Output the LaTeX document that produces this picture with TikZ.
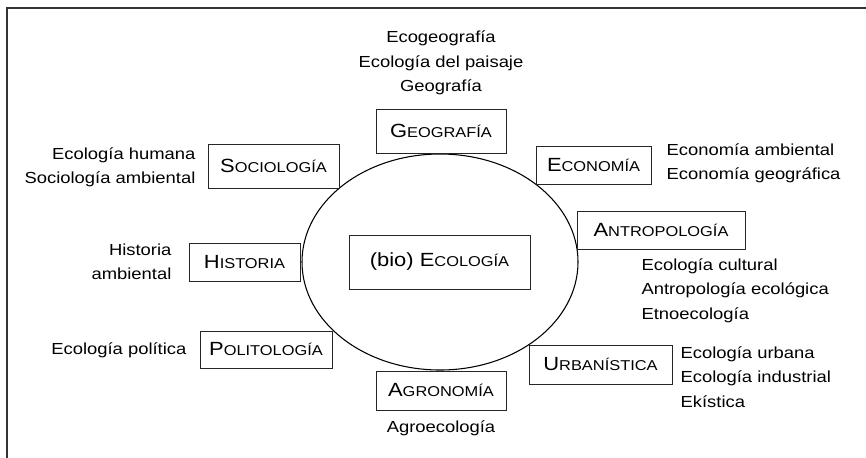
\documentclass[tikz,border=0pt]{standalone}
\usepackage{fontspec}
\setmainfont{Liberation Sans}[FakeStretch=1.15]
\usepackage{tikz}
\usetikzlibrary{shapes.geometric}
\newcommand{\fakesc}[2]{#1{\fontsize{10.7pt}{12pt}\selectfont #2}}

\begin{document}
\begin{tikzpicture}[x=0.75pt, y=-0.75pt,
  disc/.style={draw=black!85, line width=0.7pt, fill=white, inner sep=0pt, font=\fontsize{14.3pt}{16pt}\selectfont},
  field/.style={inner sep=1pt, font=\fontsize{12pt}{18.2pt}\selectfont}]
  \useasboundingbox (0,0) rectangle (866,457);
  \clip (0,0) rectangle (866,457);
  \draw[black!80, line width=1.6pt] (7,8) rectangle (880,470);
  % central ellipse
  \node[draw, ellipse, line width=0.8pt, minimum width=207pt, minimum height=162pt, inner sep=0pt] (sphere) at (440,262) {};
  \node[disc, minimum width=135.75pt, minimum height=40.5pt] (bio) at (439.5,262) {(bio) \fakesc{E}{COLOGÍA}};
  % disciplines
  \node[disc, minimum width=97.5pt, minimum height=33pt] (geo) at (441,131) {\fakesc{G}{EOGRAFÍA}};
  \node[disc, minimum width=98.25pt, minimum height=33pt] (soc) at (273.5,166) {\fakesc{S}{OCIOLOGÍA}};
  \node[disc, minimum width=86.25pt, minimum height=28.5pt] (econ) at (593.5,165) {\fakesc{E}{CONOMÍA}};
  \node[disc, minimum width=126pt, minimum height=28.5pt] (antro) at (661,230) {\fakesc{A}{NTROPOLOGÍA}};
  \node[disc, minimum width=83.25pt, minimum height=28.5pt] (hist) at (244.5,262) {\fakesc{H}{ISTORIA}};
  \node[disc, minimum width=99pt, minimum height=27.75pt] (pol) at (266,349.5) {\fakesc{P}{OLITOLOGÍA}};
  \node[disc, minimum width=97.5pt, minimum height=29.25pt] (agro) at (441,390.5) {\fakesc{A}{GRONOMÍA}};
  \node[disc, minimum width=107.25pt, minimum height=29.25pt] (urb) at (600.5,364.5) {\fakesc{U}{RBANÍSTICA}};
  % sub-fields
  \node[field, align=center] (geo-list) at (441,63) {Ecogeografía\\Ecología del paisaje\\Geografía};
  \node[field, align=right, anchor=east] (soc-list) at (197,167.5) {Ecología humana\\Sociología ambiental};
  \node[field, align=left, anchor=west] (econ-list) at (665,163) {Economía ambiental\\Economía geográfica};
  \node[field, align=left, anchor=west] (antro-list) at (640,290.5) {Ecología cultural\\Antropología ecológica\\Etnoecología};
  \node[field, align=right, anchor=east] (hist-list) at (173,261.5) {Historia\\ambiental};
  \node[field, anchor=east] (pol-list) at (188,350) {Ecología política};
  \node[field] (agro-list) at (441,428) {Agroecología};
  \node[field, align=left, anchor=west] (urb-list) at (679,377) {Ecología urbana\\Ecología industrial\\Ekística};
\end{tikzpicture}
\end{document}
